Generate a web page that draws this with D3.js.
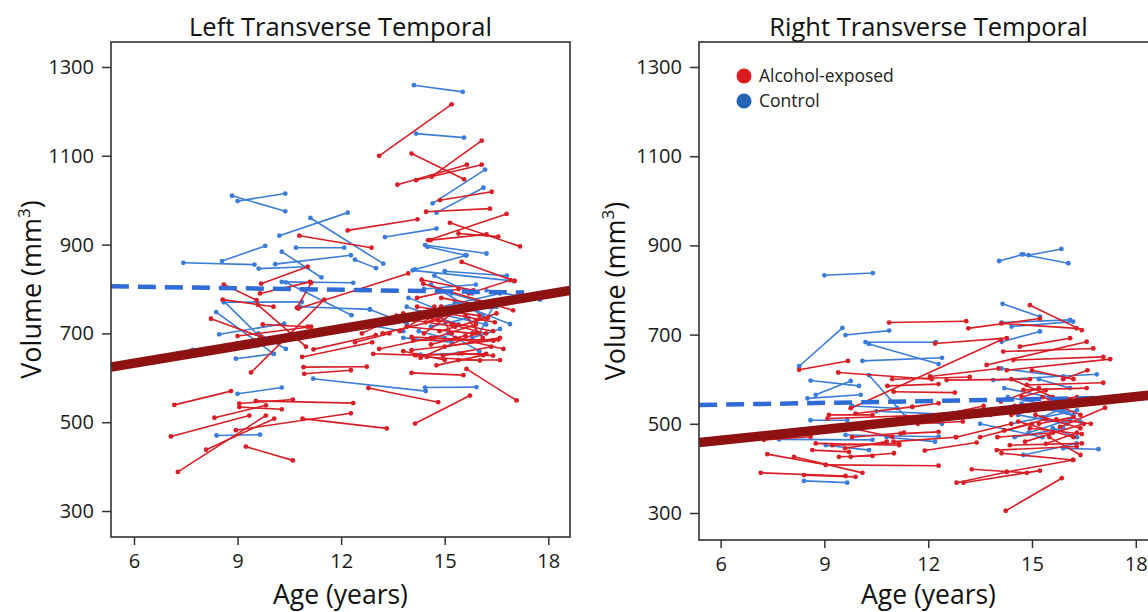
<!DOCTYPE html>
<html>
<head>
<meta charset="utf-8">
<script src="https://cdn.jsdelivr.net/npm/d3@7"></script>
<style>
  body { margin: 0; background: #fff; }
  svg { display: block; font-family: "Open Sans", sans-serif; }
</style>
</head>
<body>
<div id="chart"></div>
<script>
// each row: [age1, vol1, age2, vol2]
const leftControl = [
  [8.84,1010,10.38,975],[9.00,998,10.38,1015],[10.21,920,12.19,972],[11.11,960,13.22,857],
  [7.43,859,9.49,855],[8.55,863,9.80,897],[9.61,846,11.03,850],[10.69,893,12.09,893],
  [10.28,884,11.43,826],[10.09,856,12.28,876],[8.57,775,9.65,692],[8.38,748,10.05,654],
  [8.47,698,10.35,722],[7.70,663,9.58,673],[8.95,643,10.04,654],[9.00,564,10.28,578],
  [8.39,470,9.65,472],[11.19,598,14.45,570],[10.28,816,12.35,814],[8.60,770,10.86,771],
  [10.40,815,12.30,741],[10.81,760,12.83,754],[12.83,754,13.90,722],[13.27,917,14.76,936],
  [14.11,1259,15.52,1244],[14.17,1150,15.56,1141],[14.65,993,16.17,1069],[14.76,972,16.12,1028],
  [14.43,899,16.21,880],[14.50,895,15.60,876],[14.14,844,15.63,876],[14.07,842,17.00,818],
  [15.00,840,16.80,830],[15.30,770,16.89,721],[16.21,797,17.76,776],[14.43,578,15.92,579],
  [13.90,760,15.40,720],[14.20,730,16.30,770],[14.60,810,16.10,740],[15.10,700,16.00,660],
  [13.80,690,15.20,680],[14.90,760,16.60,790],[14.30,652,15.40,655],[14.70,830,15.80,790],
  [16.00,700,16.40,760],[12.40,866,13.01,847],[14.40,800,15.90,810],[14.80,745,16.20,720],
  [15.20,790,16.50,760],[13.95,780,15.10,745],[14.60,715,15.70,735],[15.50,750,16.70,770],
  [14.25,705,15.00,690],[15.80,690,16.60,710],[12.70,720,13.80,705],[9.60,700,10.40,665]
];
const leftAlcohol = [
  [10.79,920,12.88,893],[12.19,932,14.21,957],[9.68,812,11.03,850],[9.65,790,11.10,816],
  [8.60,810,9.55,775],[8.57,776,10.04,760],[9.58,765,10.98,670],[10.72,758,11.13,814],
  [9.39,612,11.51,776],[8.23,733,9.68,692],[9.73,720,11.03,715],[9.00,694,11.13,715],
  [10.87,647,12.90,680],[10.91,624,12.74,625],[10.93,609,12.28,617],[11.20,664,13.00,696],
  [10.76,756,13.94,835],[7.17,539,8.81,570],[8.33,510,9.82,538],[9.05,542,10.60,551],
  [9.05,534,10.28,529],[9.53,548,12.35,543],[7.07,468,9.34,515],[8.09,438,10.06,508],
  [7.27,388,9.82,515],[9.24,445,10.60,414],[8.95,482,12.28,520],[10.88,508,13.32,486],
  [13.10,1100,15.20,1216],[14.04,1105,15.56,1047],[13.63,1035,15.64,1080],[14.17,1045,16.07,1080],
  [14.62,1053,16.07,1134],[14.86,1000,16.36,1019],[14.46,974,16.31,981],[15.15,949,17.18,896],
  [14.52,910,16.79,969],[14.59,910,16.21,923],[15.40,925,16.55,918],[15.49,861,17.03,818],
  [14.04,611,15.54,606],[15.63,620,17.08,549],[14.14,497,15.73,560],[12.79,577,14.81,545],
  [14.33,821,15.83,797],[14.38,812,16.98,752],[14.04,692,16.41,684],[14.14,651,16.20,654],
  [14.48,647,16.02,639],[14.76,628,16.12,651],[14.04,662,16.41,684],[14.09,684,16.55,686],
  [12.93,654,14.18,651],[13.60,740,15.20,745],[13.90,715,15.80,700],[14.20,760,16.00,740],
  [14.50,735,16.40,705],[14.70,690,15.90,720],[14.90,780,16.30,760],[15.00,670,16.60,690],
  [13.20,700,14.80,730],[14.40,700,15.50,760],[15.20,720,16.20,700],[15.50,655,16.40,650],
  [13.80,660,15.00,640],[14.30,645,15.90,700],[12.60,700,13.80,745],[14.45,725,16.05,765],
  [14.85,705,16.25,735],[15.10,745,16.45,725],[14.60,675,15.60,695],[15.30,690,16.70,665],
  [14.10,730,15.30,715],[15.60,740,16.10,690],[14.95,650,16.35,670],[13.70,705,14.90,760],
  [14.20,780,15.40,800],[15.70,790,16.90,820],[14.70,760,15.20,700],[15.90,730,16.50,745],
  [12.40,680,13.40,700],[13.10,665,14.60,690],[15.40,640,16.60,640]
];
const leftFitAlcohol = [[5.33,624],[18.63,797]];
const leftFitControl = [[5.33,806],[17.3,792]];

const rightControl = [
  [9.00,833,10.40,838],[14.05,865,14.75,880],[14.70,880,16.05,860],[14.90,878,15.85,892],
  [8.27,629,9.52,715],[9.61,699,10.87,709],[10.19,683,12.22,683],[10.29,679,12.30,634],
  [10.10,641,12.40,648],[10.29,609,11.35,516],[8.60,597,10.00,585],[8.75,565,9.76,596],
  [8.51,557,10.05,565],[8.60,508,9.66,508],[7.45,475,8.80,482],[7.69,465,10.39,464],
  [8.41,372,9.66,368],[9.61,475,12.30,471],[9.04,452,10.29,441],[14.15,769,15.23,740],
  [14.12,727,16.10,733],[14.41,718,16.19,729],[14.12,684,15.23,707],[13.88,598,16.87,611],
  [14.12,624,15.91,606],[15.90,445,16.92,443],[14.75,430,16.29,456],[14.30,560,15.60,540],
  [14.60,520,16.00,500],[15.00,540,16.20,520],[14.90,480,16.10,510],[13.50,500,15.30,470],
  [15.20,600,16.10,580],[14.40,500,16.30,530],[10.50,528,13.00,520],[11.20,510,12.40,500],
  [14.20,580,15.50,560],[15.30,515,16.20,545],[14.70,545,16.00,525],[15.60,490,16.30,470],
  [14.50,470,15.90,490],[9.80,540,11.10,535],[10.80,470,12.20,460],[15.90,530,16.40,505]
];
const rightAlcohol = [
  [10.87,727,13.10,730],[8.27,621,9.68,641],[9.40,615,12.10,600],[9.76,535,14.10,688],
  [10.96,600,13.20,605],[10.82,585,12.30,589],[11.00,572,12.77,570],[9.13,520,10.39,520],
  [9.09,512,12.30,520],[8.75,456,11.16,452],[7.35,432,9.04,408],[8.12,426,10.10,390],
  [9.04,408,12.30,406],[7.16,390,9.61,383],[8.41,385,9.90,381],[7.25,464,8.60,471],
  [8.65,441,9.71,437],[9.42,426,10.39,428],[9.76,426,11.01,434],[9.23,452,11.16,456],
  [11.20,478,12.30,482],[9.52,494,10.96,471],[9.90,523,11.54,538],[11.54,538,12.30,546],
  [13.16,714,15.23,736],[14.94,766,16.44,710],[14.12,725,16.29,714],[12.20,680,14.27,692],
  [14.65,673,16.10,692],[14.17,662,16.77,669],[13.69,632,16.58,684],[14.46,643,17.06,650],
  [14.27,620,17.26,645],[12.05,606,14.03,624],[12.53,598,14.94,600],[14.85,587,17.06,592],
  [14.75,576,16.58,580],[15.81,493,17.11,536],[14.94,490,16.44,477],[14.36,452,16.44,456],
  [13.98,441,16.29,449],[14.12,434,16.19,419],[13.26,398,14.85,390],[12.82,368,14.27,392],
  [13.02,368,15.23,395],[14.27,392,16.19,419],[14.24,305,15.86,378],[13.50,470,15.00,500],
  [11.90,440,13.40,458],[12.80,470,14.40,500],[14.50,540,16.30,560],[15.10,520,16.40,490],
  [14.60,505,16.20,470],[15.30,560,16.00,540],[14.80,460,16.50,500],[15.50,470,16.40,430],
  [14.10,550,15.20,580],[15.00,620,16.20,600],[14.40,600,15.60,560],[15.70,510,16.70,500],
  [11.00,460,12.80,470],[14.20,485,15.40,510],[14.90,530,16.10,555],[15.20,500,16.20,515],
  [14.40,520,15.80,540],[15.60,545,16.40,520],[14.00,470,15.60,480],[14.70,560,15.40,575],
  [15.40,455,16.30,480],[13.80,520,15.10,530],[9.80,470,11.30,480],[10.40,500,11.90,510],
  [9.60,445,10.80,460],[11.70,500,13.00,505],[12.40,520,13.60,540],[15.90,600,16.60,620]
];
const rightFitAlcohol = [[5.38,458],[18.63,566]];
const rightFitControl = [[5.38,542],[17.1,558]];

const xTicks = [6, 9, 12, 15, 18];
const yTicks = [300, 500, 700, 900, 1100, 1300];
const legendItems = ["Alcohol-exposed", "Control"];

const W = 1148, H = 612;
const RED = "#da1e25", BLUE = "#3b7ddb", DARK = "#8e1212", DASH = "#2f6cd8";

const svg = d3.select("#chart").append("svg").attr("width", W).attr("height", H);

function drawPanel(p) {
  const x = d3.scaleLinear().domain([6, 18]).range([p.x6, p.x18]);
  const y = d3.scaleLinear().domain([300, 1300]).range([p.y300, p.y1300]);
  const g = svg.append("g");

  g.append("clipPath").attr("id", p.id + "clip")
    .append("rect").attr("x", p.left).attr("y", p.top)
    .attr("width", p.right - p.left).attr("height", p.bottom - p.top);
  const plot = g.append("g").attr("clip-path", `url(#${p.id}clip)`);

  function segs(data, color) {
    const s = plot.append("g");
    s.selectAll("line").data(data).join("line")
      .attr("x1", d => x(d[0])).attr("y1", d => y(d[1]))
      .attr("x2", d => x(d[2])).attr("y2", d => y(d[3]))
      .attr("stroke", color).attr("stroke-width", 1.6);
    s.selectAll("circle").data(data.flatMap(d => [[d[0], d[1]], [d[2], d[3]]])).join("circle")
      .attr("cx", d => x(d[0])).attr("cy", d => y(d[1])).attr("r", 2.4).attr("fill", color);
  }
  segs(p.control, BLUE);
  segs(p.alcohol, RED);

  const line = d3.line().x(d => x(d[0])).y(d => y(d[1]));
  plot.append("path").attr("d", line(p.fitControl)).attr("fill", "none")
    .attr("stroke", DASH).attr("stroke-width", 4.5).attr("stroke-dasharray", "18,9");
  plot.append("path").attr("d", line(p.fitAlcohol)).attr("fill", "none")
    .attr("stroke", DARK).attr("stroke-width", 9.5);

  // frame
  g.append("rect").attr("x", p.left).attr("y", p.top)
    .attr("width", p.right - p.left).attr("height", p.bottom - p.top)
    .attr("fill", "none").attr("stroke", "#333").attr("stroke-width", 1.6);

  const yAxis = g.append("g").attr("transform", `translate(${p.left},0)`)
    .call(d3.axisLeft(y).tickValues(yTicks).tickFormat(d3.format("d")).tickSize(9).tickPadding(8));
  const xAxis = g.append("g").attr("transform", `translate(0,${p.bottom})`)
    .call(d3.axisBottom(x).tickValues(xTicks).tickFormat(d3.format("d")).tickSize(8).tickPadding(9));
  [xAxis, yAxis].forEach(a => {
    a.select(".domain").remove();
    a.selectAll("line").attr("stroke", "#333").attr("stroke-width", 1.5);
    a.selectAll("text").attr("font-size", 20).attr("fill", "#1a1a1a")
      .attr("font-family", "'Open Sans', sans-serif");
  });

  const cx = (p.left + p.right) / 2;
  g.append("text").attr("x", cx).attr("y", 36).attr("text-anchor", "middle")
    .attr("font-size", 25.5).attr("fill", "#111").text(p.title);
  g.append("text").attr("x", cx).attr("y", 604).attr("text-anchor", "middle")
    .attr("font-size", 26.5).attr("fill", "#111").text("Age (years)");
  const yl = g.append("text")
    .attr("transform", `translate(${p.ylabX},${(p.top + p.bottom) / 2}) rotate(-90)`)
    .attr("text-anchor", "middle").attr("font-size", 27).attr("fill", "#111");
  yl.append("tspan").text("Volume (mm");
  yl.append("tspan").attr("dy", -11).attr("font-size", 17).text("3");
  yl.append("tspan").attr("dy", 11).text(")");
  return { x, y, g };
}

drawPanel({
  id: "L", title: "Left Transverse Temporal",
  left: 111, right: 570, top: 42, bottom: 537,
  x6: 134, x18: 548.3, y300: 511, y1300: 67, ylabX: 41,
  control: leftControl, alcohol: leftAlcohol,
  fitAlcohol: leftFitAlcohol, fitControl: leftFitControl
});
drawPanel({
  id: "R", title: "Right Transverse Temporal",
  left: 699, right: 1158, top: 42, bottom: 540,
  x6: 720.6, x18: 1135.8, y300: 513, y1300: 67, ylabX: 625,
  control: rightControl, alcohol: rightAlcohol,
  fitAlcohol: rightFitAlcohol, fitControl: rightFitControl
});

const leg = svg.append("g").attr("transform", "translate(744,76)");
const legColors = ["#d91a1f", "#2563b4"];
leg.selectAll("circle").data(legendItems).join("circle")
  .attr("cx", 0).attr("cy", (d, i) => i * 25).attr("r", 7.5)
  .attr("fill", (d, i) => legColors[i]);
leg.selectAll("text").data(legendItems).join("text")
  .attr("x", 15).attr("y", (d, i) => i * 25 + 6)
  .attr("font-size", 17.5).attr("fill", "#222").text(d => d);
</script>
</body>
</html>
